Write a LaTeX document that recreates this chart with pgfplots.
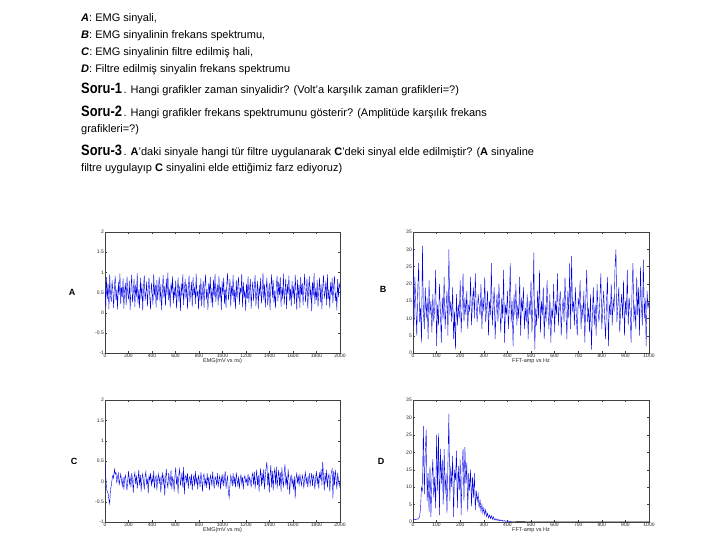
\documentclass[border=0pt]{standalone}
\usepackage{fontspec}
\setmainfont{Liberation Sans}
\newfontfamily\sorufont[FakeStretch=0.86]{Liberation Sans}
\usepackage{pgfplots}
\usepackage{pgfplotstable}
\pgfplotsset{compat=1.18}

\pgfplotstableread[row sep=\\, header=false]{
0.62\\0.15\\0.88\\0.34\\0.71\\0.09\\0.95\\0.42\\0.27\\0.80\\
0.53\\0.12\\0.67\\0.91\\0.30\\0.58\\0.08\\0.76\\0.44\\0.97\\
0.21\\0.63\\0.39\\0.85\\0.10\\0.55\\0.73\\0.18\\0.90\\0.47\\
0.33\\0.79\\0.06\\0.61\\0.94\\0.25\\0.50\\0.83\\0.14\\0.69\\
0.40\\0.98\\0.22\\0.57\\0.11\\0.86\\0.35\\0.72\\0.05\\0.64\\
0.92\\0.29\\0.49\\0.77\\0.16\\0.60\\0.87\\0.37\\0.08\\0.74\\
0.52\\0.20\\0.96\\0.43\\0.68\\0.13\\0.81\\0.31\\0.59\\0.89\\
0.26\\0.70\\0.07\\0.54\\0.93\\0.38\\0.66\\0.17\\0.84\\0.45\\
0.99\\0.32\\0.58\\0.12\\0.75\\0.48\\0.90\\0.23\\0.62\\0.36\\
0.80\\0.10\\0.51\\0.87\\0.28\\0.65\\0.04\\0.73\\0.41\\0.95\\
0.19\\0.56\\0.83\\0.35\\0.71\\0.09\\0.60\\0.92\\0.27\\0.49\\
0.76\\0.14\\0.88\\0.44\\0.63\\0.21\\0.97\\0.39\\0.55\\0.08\\
0.68\\0.30\\0.85\\0.16\\0.52\\0.79\\0.11\\0.67\\0.94\\0.33\\
0.58\\0.06\\0.74\\0.46\\0.89\\0.24\\0.61\\0.13\\0.82\\0.40\\
0.96\\0.27\\0.53\\0.70\\0.18\\0.91\\0.37\\0.64\\0.07\\0.78\\
0.45\\0.86\\0.22\\0.59\\0.12\\0.73\\0.98\\0.31\\0.50\\0.84\\
0.15\\0.66\\0.42\\0.93\\0.26\\0.57\\0.09\\0.81\\0.35\\0.69\\
0.88\\0.20\\0.62\\0.47\\0.97\\0.14\\0.75\\0.38\\0.56\\0.05\\
0.72\\0.34\\0.90\\0.25\\0.60\\0.83\\0.10\\0.54\\0.77\\0.29\\
0.64\\0.93\\0.17\\0.48\\0.79\\0.08\\0.67\\0.41\\0.86\\0.23\\
0.51\\0.99\\0.32\\0.70\\0.13\\0.58\\0.87\\0.19\\0.45\\0.74\\
0.06\\0.62\\0.95\\0.37\\0.80\\0.24\\0.55\\0.11\\0.68\\0.91\\
0.28\\0.76\\0.43\\0.89\\0.15\\0.63\\0.35\\0.97\\0.20\\0.52\\
0.84\\0.09\\0.71\\0.46\\0.92\\0.30\\0.59\\0.16\\0.78\\0.40\\
0.65\\0.22\\0.94\\0.53\\0.07\\0.82\\0.36\\0.69\\0.12\\0.88\\
0.44\\0.73\\0.18\\0.61\\0.96\\0.27\\0.50\\0.85\\0.10\\0.57\\
0.90\\0.33\\0.66\\0.04\\0.77\\0.42\\0.98\\0.21\\0.60\\0.31\\
0.81\\0.14\\0.54\\0.87\\0.26\\0.70\\0.08\\0.63\\0.93\\0.38\\
0.48\\0.79\\0.19\\0.95\\0.34\\0.58\\0.11\\0.75\\0.45\\0.86\\
0.23\\0.67\\0.91\\0.29\\0.52\\0.06\\0.83\\0.39\\0.72\\0.60\\
}\dataA

\pgfplotstableread[row sep=\\, header=false]{
31\\8\\22\\14\\5\\18\\26\\9\\13\\3\\
31\\12\\7\\19\\10\\16\\4\\21\\11\\15\\
6\\17\\9\\13\\24\\2\\14\\8\\20\\12\\
3\\16\\10\\22\\7\\13\\18\\5\\30\\11\\
15\\9\\19\\4\\12\\1\\17\\8\\14\\10\\
21\\6\\13\\23\\9\\16\\11\\18\\7\\14\\
12\\22\\8\\15\\19\\10\\23\\13\\9\\17\\
14\\11\\20\\7\\16\\12\\22\\9\\13\\18\\
5\\15\\11\\26\\8\\14\\19\\4\\12\\17\\
9\\20\\13\\6\\16\\10\\24\\3\\14\\11\\
18\\7\\13\\26\\9\\15\\2\\17\\11\\20\\
8\\14\\10\\22\\5\\16\\12\\19\\7\\13\\
9\\17\\4\\15\\11\\21\\6\\14\\29\\1\\
13\\8\\18\\10\\24\\6\\15\\11\\19\\4\\
14\\9\\21\\12\\7\\17\\3\\13\\10\\20\\
6\\15\\11\\23\\8\\14\\18\\5\\12\\16\\
9\\22\\13\\4\\18\\10\\26\\7\\28\\12\\
15\\8\\19\\11\\5\\16\\13\\21\\7\\14\\
10\\18\\3\\15\\24\\9\\13\\6\\17\\1\\
11\\19\\8\\14\\5\\20\\12\\9\\16\\23\\
7\\13\\18\\10\\4\\15\\22\\2\\14\\11\\
20\\8\\16\\12\\25\\30\\9\\14\\19\\6\\
13\\17\\10\\21\\5\\15\\11\\24\\8\\16\\
12\\3\\18\\26\\9\\14\\7\\22\\11\\19\\
5\\25\\13\\8\\27\\10\\16\\2\\18\\13\\
15\\
}\dataB

\pgfplotstableread[row sep=\\, header=false]{
0.45\\0.10\\-0.20\\-0.25\\-0.30\\-0.45\\-0.55\\-0.20\\-0.10\\0.05\\
0.15\\0.08\\0.30\\0.18\\0.22\\-0.05\\0.12\\0.20\\-0.10\\0.05\\
0.18\\0.02\\-0.12\\0.10\\-0.20\\0.08\\0.15\\-0.05\\-0.22\\0.06\\
0.25\\-0.08\\0.12\\-0.15\\0.20\\0.04\\-0.28\\0.10\\0.22\\-0.06\\
0.14\\-0.18\\0.05\\0.28\\-0.10\\0.16\\-0.25\\0.08\\0.18\\-0.02\\
-0.20\\0.12\\0.24\\-0.08\\0.06\\-0.30\\0.15\\0.02\\0.20\\-0.12\\
0.10\\-0.05\\0.26\\-0.18\\0.08\\0.14\\-0.22\\0.05\\0.18\\-0.06\\
0.12\\-0.28\\0.04\\0.22\\-0.10\\0.16\\-0.35\\0.08\\0.30\\-0.04\\
-0.15\\0.20\\0.06\\-0.12\\0.28\\-0.20\\0.10\\0.02\\-0.25\\0.14\\
0.34\\-0.08\\0.12\\-0.30\\0.18\\0.30\\-0.10\\0.05\\0.22\\-0.15\\
0.35\\-0.32\\0.10\\0.15\\-0.05\\0.20\\-0.18\\0.08\\0.12\\-0.10\\
0.18\\-0.22\\0.04\\0.14\\-0.12\\0.25\\-0.06\\0.10\\-0.20\\0.16\\
0.02\\-0.14\\0.22\\0.06\\-0.25\\0.12\\0.18\\-0.08\\0.04\\-0.16\\
0.20\\-0.05\\0.10\\-0.22\\0.15\\0.08\\-0.12\\0.24\\-0.02\\-0.18\\
0.12\\0.06\\-0.10\\0.20\\-0.15\\0.05\\0.14\\-0.20\\0.10\\-0.04\\
0.18\\-0.12\\0.08\\0.25\\-0.18\\0.02\\0.12\\-0.28\\-0.40\\-0.10\\
0.15\\0.05\\-0.12\\0.20\\-0.08\\0.10\\-0.15\\0.22\\0.04\\-0.10\\
0.12\\-0.18\\0.06\\0.16\\-0.05\\0.10\\-0.20\\0.08\\0.14\\-0.02\\
0.05\\-0.12\\0.18\\-0.06\\0.10\\0.02\\-0.15\\0.12\\0.20\\-0.08\\
0.24\\-0.18\\0.06\\0.28\\-0.10\\0.15\\-0.25\\0.10\\0.32\\-0.12\\
0.20\\-0.06\\0.30\\-0.20\\0.12\\0.35\\0.48\\-0.10\\0.22\\-0.28\\
0.15\\0.40\\-0.15\\0.25\\-0.22\\0.18\\0.30\\-0.08\\0.36\\-0.18\\
0.10\\0.28\\-0.12\\0.22\\-0.25\\0.34\\0.05\\-0.15\\0.20\\0.42\\
-0.10\\0.12\\-0.20\\0.30\\0.05\\-0.32\\0.10\\0.15\\-0.08\\0.06\\
-0.20\\0.12\\-0.42\\0.08\\0.20\\-0.05\\0.14\\-0.12\\0.18\\0.02\\
-0.10\\0.15\\0.05\\-0.18\\0.10\\0.22\\-0.06\\0.12\\-0.15\\0.08\\
0.18\\-0.10\\0.04\\0.20\\-0.12\\0.15\\0.06\\-0.20\\0.10\\0.25\\
-0.08\\0.14\\-0.18\\0.22\\0.05\\0.30\\-0.10\\0.48\\0.12\\-0.22\\
0.20\\-0.05\\0.28\\-0.15\\0.10\\0.18\\-0.25\\0.06\\0.22\\0.30\\
-0.42\\0.25\\-0.10\\0.28\\0.08\\-0.20\\0.20\\0.05\\-0.12\\0.02\\
}\dataC

\pgfplotstableread[row sep=\\, header=false]{
0.8\\0.7\\0.8\\0.7\\0.9\\0.8\\1.0\\1.5\\4.0\\10.0\\
9.0\\27.5\\8.0\\20.0\\26.5\\6.0\\14.0\\3.0\\16.0\\1.5\\
12.0\\18.0\\7.0\\13.0\\4.0\\25.0\\9.0\\25.5\\2.0\\21.0\\
11.0\\18.0\\5.0\\21.0\\8.0\\14.0\\2.5\\17.0\\31.0\\6.0\\
16.0\\10.0\\19.0\\1.5\\15.0\\12.0\\20.5\\4.0\\16.0\\9.0\\
18.0\\2.0\\15.0\\21.0\\6.0\\21.5\\11.0\\17.0\\3.0\\14.0\\
9.0\\15.0\\4.5\\13.0\\7.0\\14.0\\3.5\\9.0\\6.0\\8.0\\
4.0\\6.5\\3.0\\5.0\\2.5\\4.0\\2.0\\3.5\\1.5\\2.5\\
1.2\\2.0\\1.0\\1.8\\0.8\\1.5\\0.6\\1.0\\0.5\\0.9\\
0.4\\0.7\\0.3\\0.6\\0.3\\0.5\\0.2\\0.4\\0.2\\0.3\\
0.15\\0.25\\0.1\\0.2\\0.1\\0.15\\
}\dataD

\pgfplotsset{
  emg/.style={
    scale only axis, anchor=south west,
    axis line style={line width=0.4pt, black!75},
    tick style={black!75, line width=0.3pt},
    tick align=inside, major tick length=2pt,
    ticklabel style={font=\fontsize{5}{5}\selectfont, text=black!85, inner sep=1pt},
    xlabel style={font=\fontsize{5.5}{6}\selectfont, text=black!85, inner sep=0pt, yshift=0.5pt},
    /pgf/number format/assume math mode=true,
    /pgf/number format/1000 sep={},
    cycle list={{color=blue!90!black, no markers, line width=0.6pt, line join=round}},
  },
}
\newcommand{\soru}[1]{{\sorufont\fontsize{15}{17}\selectfont\bfseries #1}\hspace{1.5pt}}

\begin{document}
\begin{tikzpicture}[x=1pt, y=1pt]
\fill[white] (0pt,0pt) rectangle (720pt,540pt);

% text block
\begin{scope}[every node/.style={anchor=base west, inner sep=0pt, font=\fontsize{11}{13}\selectfont}]
\node at (81pt,518pt) {\textbf{\textit{A}}: EMG sinyali,};
\node at (81pt,501pt) {\textbf{\textit{B}}: EMG sinyalinin frekans spektrumu,};
\node at (81pt,484pt) {\textbf{\textit{C}}: EMG sinyalinin filtre edilmiş hali,};
\node at (81pt,467pt) {\textbf{\textit{D}}: Filtre edilmiş sinyalin frekans spektrumu};
\node at (81pt,446pt) {\soru{Soru-1}. Hangi grafikler zaman sinyalidir? (Volt’a karşılık zaman grafikleri=?)};
\node at (81pt,423pt) {\soru{Soru-2}. Hangi grafikler frekans spektrumunu gösterir? (Amplitüde karşılık frekans};
\node at (81pt,407pt) {grafikleri=?)};
\node at (81pt,384pt) {\soru{Soru-3}. \textbf{A}’daki sinyale hangi tür filtre uygulanarak \textbf{C}’deki sinyal elde edilmiştir? (\textbf{A} sinyaline};
\node at (81pt,368pt) {filtre uygulayıp \textbf{C} sinyalini elde ettiğimiz farz ediyoruz)};
\end{scope}

% panel letters
\begin{scope}[every node/.style={inner sep=0pt, font=\bfseries\fontsize{9}{9}\selectfont}]
\node at (72pt,248pt) {A};
\node at (383pt,251pt) {B};
\node at (74pt,79pt) {C};
\node at (381pt,79pt) {D};
\end{scope}

% A
\begin{axis}[emg, at={(105pt,187pt)}, width=235pt, height=121pt,
  xmin=0, xmax=2000, ymin=-1, ymax=2,
  xtick={0,200,...,2000}, ytick={-1,-0.5,0,0.5,1,1.5,2},
  xlabel={EMG(mV vs ns)}]
\addplot table[x expr=\coordindex*2000/299, y index=0] {\dataA};
\end{axis}

% B
\begin{axis}[emg, at={(413pt,187pt)}, width=236pt, height=121pt,
  xmin=0, xmax=1000, ymin=0, ymax=35,
  xtick={0,100,...,1000}, ytick={0,5,...,35},
  xlabel={FFT-amp vs Hz}]
\addplot table[x expr=\coordindex*4, y index=0] {\dataB};
\end{axis}

% C
\begin{axis}[emg, at={(105pt,18pt)}, width=235pt, height=122pt,
  xmin=0, xmax=2000, ymin=-1, ymax=2,
  xtick={0,200,...,2000}, ytick={-1,-0.5,0,0.5,1,1.5,2},
  xlabel={EMG(mV vs ns)}]
\addplot table[x expr=\coordindex*2000/299, y index=0] {\dataC};
\end{axis}

% D
\begin{axis}[emg, at={(413pt,18pt)}, width=236pt, height=122pt,
  xmin=0, xmax=1000, ymin=0, ymax=35,
  xtick={0,100,...,1000}, ytick={0,5,...,35},
  xlabel={FFT-amp vs Hz}]
\addplot table[x expr=\coordindex*4, y index=0] {\dataD};
\addplot coordinates {(420,0.15)(440,0.12)(460,0.1)(480,0.08)(500,0.07)(550,0.06)(600,0.05)(650,0.05)(700,0.04)(750,0.04)(800,0.04)(850,0.04)(900,0.04)(950,0.04)(1000,0.04)};
\end{axis}
\end{tikzpicture}
\end{document}
